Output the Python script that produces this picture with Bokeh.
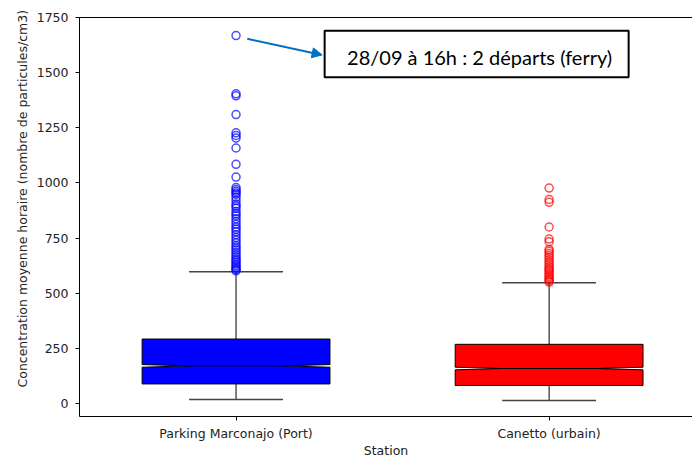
from bokeh.plotting import figure
from bokeh.models import (FixedTicker, LinearAxis, Range1d, Label, Arrow, NormalHead,
                          BoxAnnotation, ColumnDataSource, Title)
from bokeh.embed import file_html
from bokeh.resources import INLINE

# ---------------- data ----------------
stations = ["Parking Marconajo (Port)", "Canetto (urbain)"]
box_colors = ["blue", "red"]
q1 = [87, 80]
median = [169, 157]
q3 = [291, 267]
whisker_low = [16, 12]
whisker_high = [597, 547]
notch_half = [6, 6]

outliers_port = [1670, 1405, 1396, 1311, 1228, 1216, 1204, 1159, 1085, 1027, 979, 970,
                 962, 955, 948, 935, 920, 905, 895, 885, 870, 860, 850, 838, 825, 812,
                 800, 790, 778, 765, 752, 740, 728, 715, 705, 695, 685, 675, 665, 655,
                 648, 640, 632, 625, 618, 612, 606, 601]
outliers_canetto = [977, 925, 912, 800, 745, 733, 698, 690, 680, 670, 660, 650, 640,
                    630, 620, 612, 605, 598, 590, 582, 575, 568, 562, 556, 550]
outliers = [outliers_port, outliers_canetto]

y_ticks = [0, 250, 500, 750, 1000, 1250, 1500, 1750]
annotation_text = "28/09 à 16h : 2 départs (ferry)"
y_label = "Concentration moyenne horaire (nombre de particules/cm3)"
x_label = "Station"

# ---------------- layout ----------------
FONT = "DejaVu Sans"
FS = "12.5px"
TXT = "#222222"
box_w = 0.6
cap_w = 0.3

p = figure(width=692, height=460, output_backend="svg", toolbar_location=None,
           x_range=Range1d(0.5, 2.458), y_range=Range1d(-61, 1752),
           min_border_left=79, min_border_right=0, min_border_top=17, min_border_bottom=43)
p.background_fill_color = "white"
p.border_fill_color = "white"
p.outline_line_color = None
p.grid.visible = False

positions = [i + 1 for i in range(len(stations))]

for i, x in enumerate(positions):
    hw = box_w / 2
    qw = box_w / 4
    lo_n = median[i] - notch_half[i]
    hi_n = median[i] + notch_half[i]
    xs = [x - hw, x + hw, x + hw, x + qw, x + hw, x + hw, x - hw, x - hw, x - qw, x - hw]
    ys = [q1[i], q1[i], lo_n, median[i], hi_n, q3[i], q3[i], hi_n, median[i], lo_n]
    p.segment(x0=[x, x], y0=[q3[i], q1[i]], x1=[x, x], y1=[whisker_high[i], whisker_low[i]],
              line_color="black", line_width=1)
    p.segment(x0=[x - cap_w / 2] * 2, y0=[whisker_high[i], whisker_low[i]],
              x1=[x + cap_w / 2] * 2, y1=[whisker_high[i], whisker_low[i]],
              line_color="#444444", line_width=1.5)
    p.patch(xs, ys, fill_color=box_colors[i], line_color="black", line_width=1)
    p.segment(x0=[x - qw], y0=[median[i]], x1=[x + qw], y1=[median[i]],
              line_color="black", line_width=1)
    src = ColumnDataSource(dict(x=[x] * len(outliers[i]), y=outliers[i]))
    p.scatter("x", "y", source=src, size=8, marker="circle", fill_color=None,
              line_color=box_colors[i], line_alpha=0.7, line_width=1.5)

# axes
p.xaxis.ticker = FixedTicker(ticks=positions)
p.xaxis.major_label_overrides = {pos: s for pos, s in zip(positions, stations)}
p.yaxis.ticker = FixedTicker(ticks=y_ticks)
for ax in (p.xaxis[0], p.yaxis[0]):
    ax.major_label_text_font = FONT
    ax.major_label_text_font_size = FS
    ax.major_label_text_color = TXT
    ax.major_tick_out = 4
    ax.major_tick_in = 0
    ax.minor_tick_line_color = None
    ax.axis_line_color = "black"
    ax.major_tick_line_color = "black"
    ax.axis_label_text_font = FONT
    ax.axis_label_text_font_size = FS
    ax.axis_label_text_font_style = "normal"
    ax.axis_label_text_color = TXT
p.xaxis.major_label_standoff = 5
p.xaxis.axis_label = x_label
p.xaxis.axis_label_standoff = -1
p.yaxis.major_label_standoff = 7

top_axis = LinearAxis(ticker=FixedTicker(ticks=[]), major_tick_line_color=None,
                      minor_tick_line_color=None, major_label_text_font_size="0px",
                      axis_line_color="black")
p.add_layout(top_axis, "above")

p.add_layout(Title(text=y_label, align="left", offset=29, standoff=8,
                   text_font=FONT, text_font_size=FS, text_font_style="normal",
                   text_color=TXT), "left")

# annotation
p.add_layout(Arrow(x_start=1.036, y_start=1655, x_end=1.275, y_end=1582,
                   line_color="#0070C0", line_width=2,
                   end=NormalHead(size=10, fill_color="#0070C0", line_color="#0070C0")))
p.add_layout(BoxAnnotation(left=1.283, right=2.254, bottom=1481, top=1692,
                           fill_color="white", fill_alpha=1, line_color="black",
                           line_width=2, line_alpha=1))
p.add_layout(Label(x=1.778, y=1572, text=annotation_text, text_align="center",
                   text_baseline="middle", text_font="Lato", text_font_size="20px",
                   text_color="black"))

open("out.html", "w").write(file_html(p, INLINE))
